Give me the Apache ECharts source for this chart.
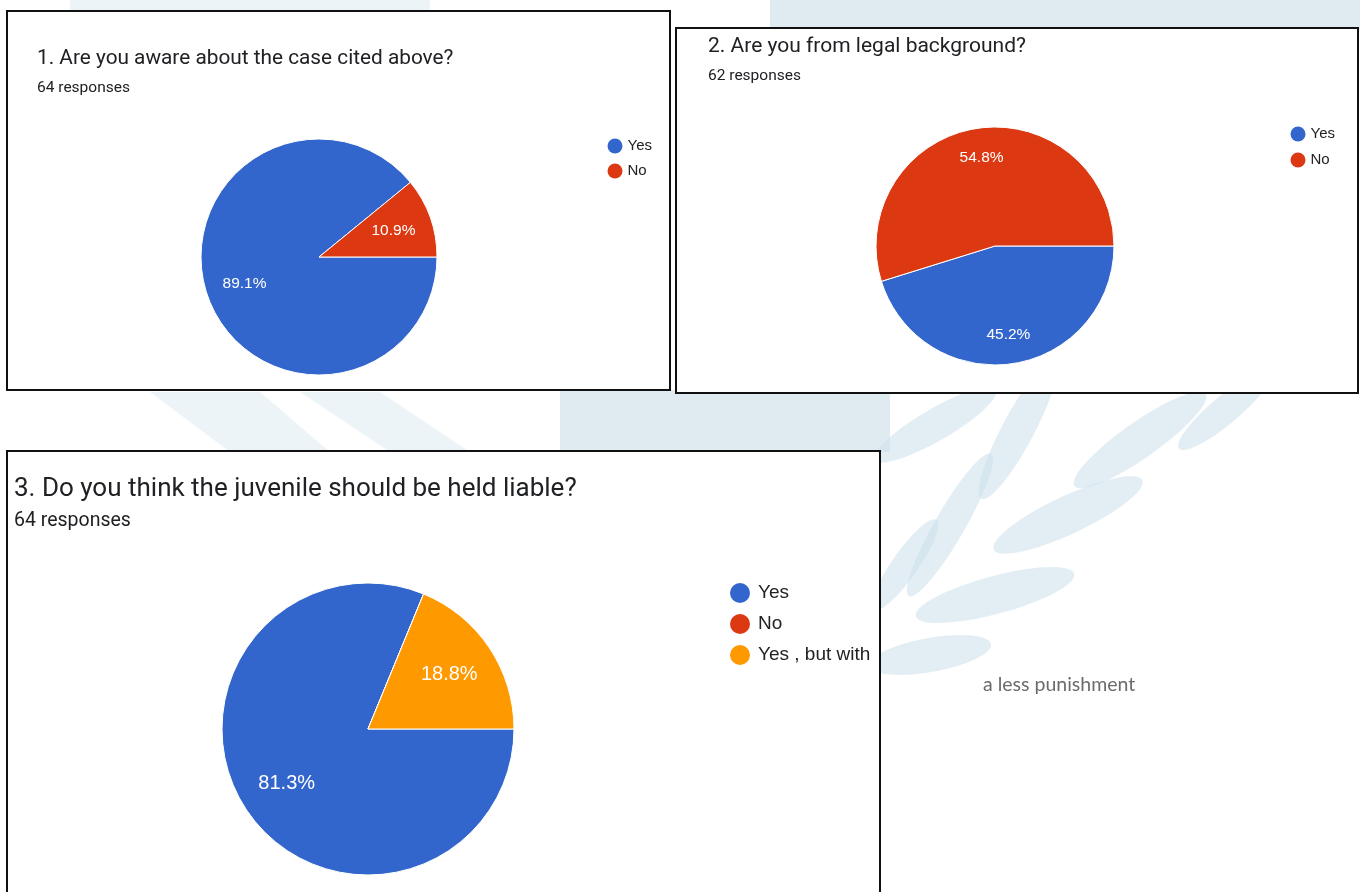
<!DOCTYPE html>
<html>
<head>
<meta charset="utf-8">
<title>Survey responses</title>
<script src="https://cdn.jsdelivr.net/npm/echarts@6/dist/echarts.min.js"></script>
<style>
  html, body { margin: 0; padding: 0; background: #ffffff; }
  #chart { width: 1360px; height: 892px; }
</style>
</head>
<body>
<div id="chart"></div>
<script>
// ---- survey data (percent of responses) ----
const q1Title = '1. Are you aware about the case cited above?';
const q1Responses = '64 responses';
const q1Categories = ['Yes', 'No'];
const q1Values = [89.1, 10.9];

const q2Title = '2. Are you from legal background?';
const q2Responses = '62 responses';
const q2Categories = ['Yes', 'No'];
const q2Values = [45.2, 54.8];

const q3Title = '3. Do you think the juvenile should be held liable?';
const q3Responses = '64 responses';
const q3Categories = ['Yes', 'No', 'Yes , but with a less punishment'];
const q3Values = [81.3, 0, 18.8];
const q3Overflow = 'a less punishment';

// ---- styling ----
const TITLE_FONT = 'Roboto, "Noto Sans", Arial, sans-serif';
const LABEL_FONT = '"Liberation Sans", Arial, Helvetica, sans-serif';
const COLORS = { 'Yes': '#3366cc', 'No': '#dc3912', 'Yes , but with a less punishment': '#ff9900' };

// pie geometry: center, radius and radial fraction for the value labels
const pies = [
  { center: [319, 257], r: 118, labelFrac: 0.67, fontSize: 15.5 },
  { center: [995, 246], r: 119, labelFrac: 0.75, fontSize: 15.5 },
  { center: [368, 729], r: 146, labelFrac: 0.67, fontSize: 20 }
];

function buildData(cats, vals) {
  return cats.map((c, i) => ({ name: c, value: vals[i], itemStyle: { color: COLORS[c] } }));
}

function pieSeries(idx, cats, vals) {
  const p = pies[idx];
  const total = vals.reduce((a, b) => a + b, 0);
  // mid angle of every slice (clockwise from 3 o'clock), used to place the labels
  const mids = [];
  let acc = 0;
  vals.forEach(v => { mids.push((acc + v / 2) / total * 2 * Math.PI); acc += v; });
  return {
    type: 'pie',
    center: p.center,
    radius: [0, p.r],
    startAngle: 0,
    clockwise: true,
    animation: false,
    silent: true,
    minAngle: 0,
    itemStyle: { borderColor: '#ffffff', borderWidth: 1 },
    label: {
      show: true,
      position: 'inside',
      color: '#ffffff',
      fontFamily: LABEL_FONT,
      fontSize: p.fontSize,
      formatter: (d) => d.value > 0 ? d.value.toFixed(1) + '%' : ''
    },
    labelLine: { show: false },
    emphasis: { disabled: true },
    labelLayout: function (params) {
      const a = mids[params.dataIndex];
      return {
        x: p.center[0] + Math.cos(a) * p.labelFrac * p.r,
        y: p.center[1] + Math.sin(a) * p.labelFrac * p.r
      };
    },
    data: buildData(cats, vals)
  };
}

function legendFor(cats, left, top, size, gap, fontSize, textExtra) {
  return {
    orient: 'vertical',
    left: left,
    top: top,
    padding: 0,
    icon: 'circle',
    itemWidth: size,
    itemHeight: size,
    itemGap: gap,
    selectedMode: false,
    itemStyle: { borderWidth: 0 },
    data: cats,
    textStyle: Object.assign({ fontFamily: LABEL_FONT, fontSize: fontSize, color: '#222222' }, textExtra || {})
  };
}

// faint olive-leaf watermark behind the panels
const leafColor = 'rgba(200, 221, 233, 0.5)';
const leaves = [
  [935, 425, 70, 16, 30], [1018, 430, 78, 16, 62], [1140, 440, 80, 18, 35],
  [1068, 515, 82, 19, 25], [995, 595, 82, 19, 15], [930, 655, 62, 17, 10],
  [950, 525, 82, 15, 60], [905, 565, 55, 13, 55], [1225, 410, 60, 14, 40]
];
const watermark = leaves.map(l => ({
  type: 'ellipse',
  shape: { cx: 0, cy: 0, rx: l[2], ry: l[3] },
  x: l[0], y: l[1],
  rotation: l[4] * Math.PI / 180,
  style: { fill: leafColor },
  silent: true,
  z: 0
}));
watermark.push(
  { type: 'rect', shape: { x: 770, y: 0, width: 590, height: 30 }, style: { fill: 'rgba(210,226,235,0.7)' }, z: 0, silent: true },
  { type: 'rect', shape: { x: 70, y: 0, width: 360, height: 12 }, style: { fill: 'rgba(220,233,240,0.5)' }, z: 0, silent: true },
  { type: 'rect', shape: { x: 560, y: 390, width: 330, height: 62 }, style: { fill: 'rgba(210,226,235,0.7)' }, z: 0, silent: true },
  { type: 'polygon', shape: { points: [[150, 392], [260, 392], [330, 452], [230, 452]] }, style: { fill: 'rgba(220,233,240,0.5)' }, z: 0, silent: true },
  { type: 'polygon', shape: { points: [[300, 392], [380, 392], [470, 452], [390, 452]] }, style: { fill: 'rgba(220,233,240,0.5)' }, z: 0, silent: true }
);

// panel frames
const frame = (x, y, w, h) => ({
  type: 'rect',
  shape: { x: x, y: y, width: w, height: h },
  style: { fill: '#ffffff', stroke: '#111111', lineWidth: 2 },
  silent: true,
  z: 1
});

const titleStyle = (size, lh) => ({ fontFamily: TITLE_FONT, fontWeight: 'normal', fontSize: size, lineHeight: lh, color: '#202124' });
const subStyle = (size, lh) => ({ fontFamily: TITLE_FONT, fontSize: size, lineHeight: lh, color: '#202124' });

const option = {
  backgroundColor: '#ffffff',
  textStyle: { fontFamily: TITLE_FONT },
  graphic: {
    elements: watermark.concat([
      frame(7, 11, 663, 379),
      frame(676, 28, 682, 365),
      frame(7, 451, 873, 460),
      {
        type: 'text',
        x: 983, y: 685,
        style: {
          text: q3Overflow,
          font: '19.5px Lato, "Open Sans", sans-serif',
          fill: '#6b6b6b',
          textVerticalAlign: 'middle'
        },
        silent: true,
        z: 2
      }
    ])
  },
  title: [
    { text: q1Title, subtext: q1Responses, left: 37, top: 47, itemGap: 8, padding: 0,
      textStyle: titleStyle(20.8, 24), subtextStyle: subStyle(15.5, 18) },
    { text: q2Title, subtext: q2Responses, left: 708, top: 35, itemGap: 8, padding: 0,
      textStyle: titleStyle(21, 24), subtextStyle: subStyle(15.5, 18) },
    { text: q3Title, subtext: q3Responses, left: 14, top: 474, itemGap: 6, padding: 0,
      textStyle: titleStyle(26, 30), subtextStyle: subStyle(19.5, 22) }
  ],
  legend: [
    legendFor(q1Categories, 607.5, 138.5, 15, 10, 15),
    legendFor(q2Categories, 1290.5, 126.5, 15, 11, 15),
    legendFor(q3Categories, 730, 583, 20, 11, 19, {
      padding: [0, 0, 0, 3], width: 118, overflow: 'truncate', ellipsis: ''
    })
  ],
  series: [
    pieSeries(0, q1Categories, q1Values),
    pieSeries(1, q2Categories, q2Values),
    pieSeries(2, q3Categories, q3Values)
  ]
};

const chart = echarts.init(document.getElementById('chart'), null, { renderer: 'canvas' });
chart.setOption(option);
</script>
</body>
</html>
